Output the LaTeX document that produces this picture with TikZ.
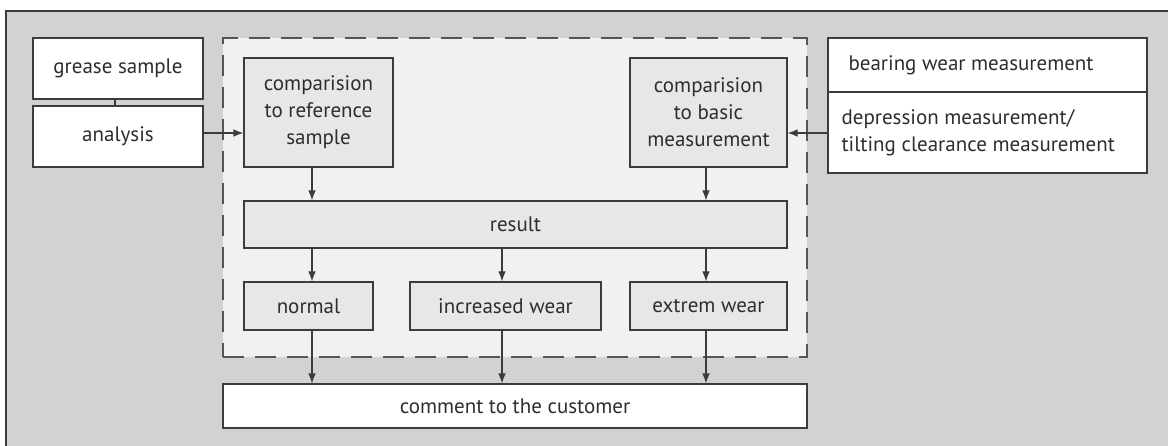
\documentclass[tikz,border=0pt]{standalone}
\usepackage{fontspec}
\setmainfont{PT Sans}
\usetikzlibrary{arrows.meta}
\definecolor{outergray}{HTML}{D1D2D4}
\definecolor{groupfill}{HTML}{F0F1F3}
\definecolor{innerfill}{HTML}{E6E7E9}
\definecolor{linecol}{HTML}{3C3C3C}
\definecolor{dashcol}{HTML}{555555}
\definecolor{textcol}{HTML}{2E2E2E}
\tikzset{
  box/.style={draw=linecol, line width=1.1pt, rectangle, inner sep=0pt, align=center,
    font=\fontsize{21}{27}\selectfont, text=textcol},
  whitebox/.style={box, fill=white},
  graybox/.style={box, fill=innerfill},
  arr/.style={draw=linecol, line width=1.1pt, -{Latex[length=10pt,width=7.5pt]}},
  conn/.style={draw=linecol, line width=1.1pt},
}
\begin{document}
\begin{tikzpicture}[x=1pt,y=-1pt]
\useasboundingbox (0,0) rectangle (1168,445);
\fill[outergray] (6,11) rectangle (1180,460);
\draw[linecol, line width=1.1pt] (1180,11) -- (6,11) -- (6,460);
% dashed group
\node[draw=dashcol, line width=1.6pt, dash pattern=on 21pt off 11pt, fill=groupfill,
  minimum width=584pt, minimum height=319pt, inner sep=0pt] (group) at (515,197.5) {};
% left inputs
\node[whitebox, minimum width=170pt, minimum height=61pt] (grease) at (118,68.5) {grease sample};
\node[whitebox, minimum width=170pt, minimum height=61pt] (analysis) at (118,136.5) {analysis};
% right inputs
\node[whitebox, minimum width=319pt, minimum height=54pt] (bearing) at (987.5,65) {};
\node[whitebox, minimum width=319pt, minimum height=81pt] (depression) at (987.5,132.5) {};
\node[box, draw=none, anchor=west, align=left] (bearingtext) at (848,65) {bearing wear measurement};
\node[box, draw=none, anchor=west, align=left] (depressiontext) at (841,132.5) {depression measurement/\\tilting clearance measurement};
% comparisons
\node[graybox, minimum width=149pt, minimum height=109pt] (compref) at (318.5,112.5) {comparision\\to reference\\sample};
\node[graybox, minimum width=157pt, minimum height=109pt] (compbasic) at (708.5,112.5) {comparision\\to basic\\measurement};
% result
\node[graybox, minimum width=543pt, minimum height=47pt] (result) at (515.5,224.5) {result};
% outcomes
\node[graybox, minimum width=129pt, minimum height=48pt] (normal) at (308.5,306) {normal};
\node[graybox, minimum width=191pt, minimum height=48pt] (incr) at (505.5,306) {increased wear};
\node[graybox, minimum width=157pt, minimum height=48pt] (extr) at (708.5,306) {extrem wear};
% comment
\node[whitebox, minimum width=584pt, minimum height=44pt] (comment) at (515,406) {comment to the customer};
% column coordinates
\coordinate (c0) at (115,0);
\coordinate (c1) at (312,0);
\coordinate (c2) at (502,0);
\coordinate (c3) at (706,0);
\coordinate (r0) at (0,133);
% connectors
\draw[conn] (grease.south -| c0) -- (analysis.north -| c0);
\draw[arr] (analysis.east |- r0) -- (compref.west |- r0);
\draw[arr] (depression.west |- r0) -- (compbasic.east |- r0);
\draw[arr] (compref.south -| c1) -- (result.north -| c1);
\draw[arr] (compbasic.south -| c3) -- (result.north -| c3);
\draw[arr] (result.south -| c1) -- (normal.north -| c1);
\draw[arr] (result.south -| c2) -- (incr.north -| c2);
\draw[arr] (result.south -| c3) -- (extr.north -| c3);
\draw[arr] (normal.south -| c1) -- (comment.north -| c1);
\draw[arr] (incr.south -| c2) -- (comment.north -| c2);
\draw[arr] (extr.south -| c3) -- (comment.north -| c3);
\end{tikzpicture}
\end{document}
